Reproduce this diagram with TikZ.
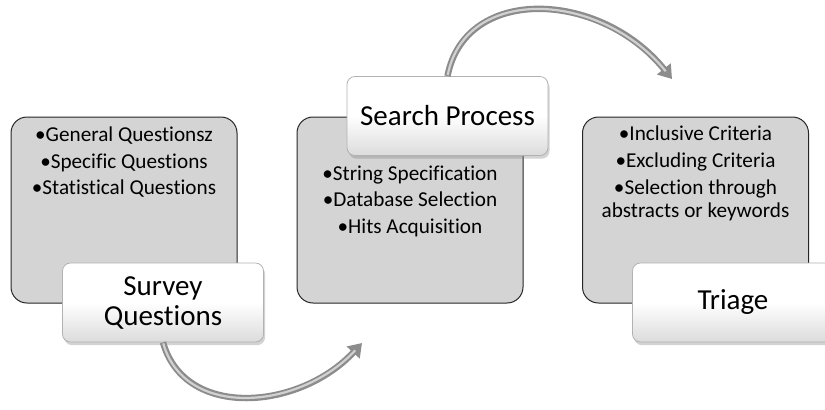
\documentclass[tikz,border=0pt]{standalone}
\usepackage{fontspec}
\setmainfont{Carlito}[Ligatures=NoCommon]
\usepackage{tikz}
\usetikzlibrary{positioning,arrows.meta,shadows}

\begin{document}
\begin{tikzpicture}[
    x=0.5pt, y=-0.5pt,
    panel/.style={rectangle, draw=black!85, line width=0.5pt, fill=black!17, rounded corners=8pt, minimum width=113pt, minimum height=93pt},
    items/.style={inner sep=0pt, align=center, font=\fontsize{10.6}{13.2}\selectfont},
    title/.style={rectangle, draw=black!30, line width=0.4pt, rounded corners=4pt, top color=white, bottom color=black!14, middle color=white, minimum width=100.5pt, minimum height=39.5pt, align=center, font=\fontsize{14.5}{15}\selectfont, drop shadow={opacity=0.35, shadow xshift=0.8pt, shadow yshift=-1.6pt}},
    flow/.style={-{Triangle[width=8.5pt, length=6.5pt]}, line width=3.2pt, draw=black!45},
    glint/.style={line width=1.1pt, draw=black!18, shorten >=5pt, shorten <=0.5pt}
]
\useasboundingbox (0,0) rectangle (825,409);

% Panels
\node[panel] (plan) at (124,210) {};
\node[panel] (search) at (410,210) {};
\node[panel] (triage) at (695.5,210) {};

% Panel texts
\node[items, below=5pt of plan.north] (planlist) {\textbullet General Questionsz\\ \textbullet Specific Questions\\ \textbullet Statistical Questions};
\node[items, below=24.5pt of search.north] (searchlist) {\textbullet String Specification\\ \textbullet Database Selection\\ \textbullet Hits Acquisition};
\node[items, below=4.5pt of triage.north, font=\fontsize{10.6}{11.6}\selectfont] (triagelist) {\textbullet Inclusive Criteria\\[1.9pt] \textbullet Excluding Criteria\\[1.9pt] \textbullet Selection through\\ abstracts or keywords};

% Titles
\node[title] (plantitle) at (163,302.5) {Survey\\Questions};
\node[title] (searchtitle) at (447.5,116) {Search Process};
\node[title] (triagetitle) at (733,302.5) {Triage};

% Arrow ends
\coordinate (tipA) at (362,343);
\coordinate (tipB) at (672,79);

% Arrows
\draw[flow] (plantitle.south) .. controls (185,420) and (300,410) .. (tipA);
\draw[glint] (plantitle.south) .. controls (185,420) and (300,410) .. (tipA);
\draw[flow] (searchtitle.north) .. controls (465,-15) and (600,-10) .. (tipB);
\draw[glint] (searchtitle.north) .. controls (465,-15) and (600,-10) .. (tipB);

\end{tikzpicture}
\end{document}
